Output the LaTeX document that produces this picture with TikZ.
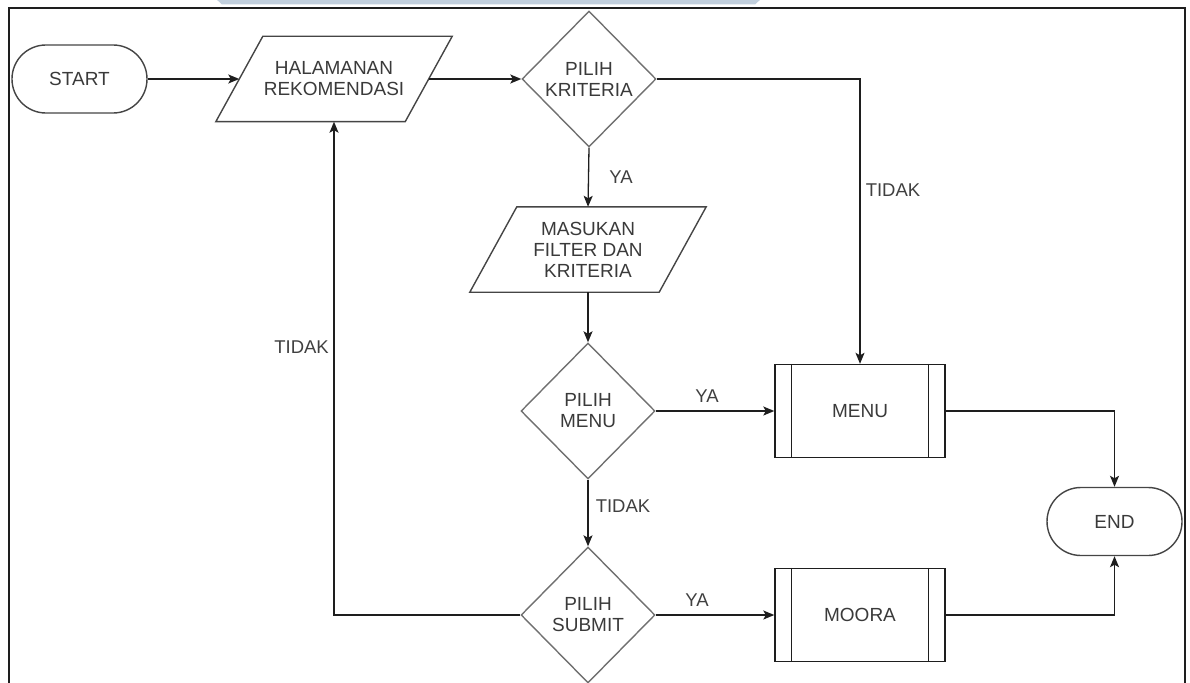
\documentclass[tikz,border=0pt]{standalone}
\usepackage{fontspec}
\setmainfont{Liberation Sans}
\usetikzlibrary{shapes.geometric,arrows.meta}
\definecolor{ink}{HTML}{1E1E1E}
\definecolor{txt}{HTML}{3A3A3A}
\definecolor{dia}{HTML}{707070}
\definecolor{par}{HTML}{454545}
\definecolor{band}{RGB}{193,207,221}

\begin{document}
\begin{tikzpicture}[x=1pt,y=-1pt,
  every node/.style={font=\fontsize{19}{21}\selectfont, text=txt, align=center, inner sep=0pt},
  term/.style={draw=par, line width=1.4pt, rounded corners=33.9pt, minimum width=135pt, minimum height=68pt},
  iobox/.style={minimum width=189pt, minimum height=85pt},
  iofrm/.style={draw=par, line width=1.4pt},
  decide/.style={diamond, draw=dia, line width=1.4pt, minimum width=134pt, minimum height=136pt},
  subproc/.style={draw=ink, line width=1.4pt, minimum width=170pt, minimum height=93pt},
  flow/.style={draw=ink, line width=1.3pt, -{Stealth[length=11pt,width=9pt,inset=2.5pt]}},
  lbl/.style={font=\fontsize{18.5}{20}\selectfont, text=ink!85}
]
\useasboundingbox (0,0) rectangle (1190,682);

% page header band and frame
\fill[band] (215,-2) -- (762,-2) -- (755,4.5) -- (222,4.5) -- cycle;
\draw[ink, line width=1.8pt] (9,690) -- (9,8) -- (1185,8) -- (1185,690);

% terminators
\node[term] (start) at (79.5,79) {START};
\node[term] (end) at (1114.5,521.5) {END};

% input/output blocks (parallelograms drawn around rectangle nodes)
\node[iobox] (hal) at (334,79) {HALAMANAN\\REKOMENDASI};
\node[iobox] (mas) at (588,249.5) {MASUKAN\\FILTER DAN\\KRITERIA};
\foreach \n in {hal,mas}
  \draw[iofrm] ([xshift=23.5pt]\n.north west) -- ([xshift=23.5pt]\n.north east)
     -- ([xshift=-23.5pt]\n.south east) -- ([xshift=-23.5pt]\n.south west) -- cycle;

% decisions
\node[decide] (krit) at (589,79) {PILIH\\KRITERIA};
\node[decide] (pmenu) at (588,411) {PILIH\\MENU};
\node[decide] (psub) at (588,615) {PILIH\\SUBMIT};

% predefined processes
\node[subproc] (menuB) at (860,411) {MENU};
\node[subproc] (moora) at (860,615) {MOORA};
\foreach \n in {menuB,moora} {
  \draw[ink, line width=1.4pt] ([xshift=17pt]\n.north west) -- ([xshift=17pt]\n.south west);
  \draw[ink, line width=1.4pt] ([xshift=-17pt]\n.north east) -- ([xshift=-17pt]\n.south east);
}

% connectors
\draw[flow] (start.east) -- (hal.west);
\draw[flow] (hal.east) -- (krit.west);
\draw[flow] (krit.south) -- (mas.north);
\draw[flow] (krit.east) -| (menuB.north);
\draw[flow] (mas.south) -- (pmenu.north);
\draw[flow] (pmenu.east) -- (menuB.west);
\draw[flow] (pmenu.south) -- (psub.north);
\draw[flow] (psub.east) -- (moora.west);
\draw[flow] (psub.west) -| (hal.south);
\draw[flow] (menuB.east) -| (end.north);
\draw[flow] (moora.east) -| (end.south);

% branch labels
\node[lbl] (yaKrit) at (621,177) {YA};
\node[lbl] (tidakKrit) at (893,190) {TIDAK};
\node[lbl] (yaMenu) at (707,396) {YA};
\node[lbl] (tidakMenu) at (623,506) {TIDAK};
\node[lbl] (yaSub) at (697,600) {YA};
\node[lbl, anchor=east] (tidakSub) at (329,347) {TIDAK};
\end{tikzpicture}
\end{document}
